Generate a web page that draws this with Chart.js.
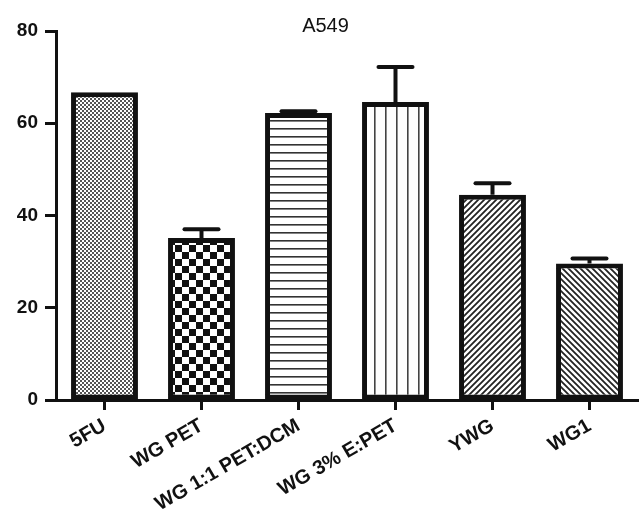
<!DOCTYPE html>
<html>
<head>
<meta charset="utf-8">
<script src="https://cdn.jsdelivr.net/npm/chart.js@4.4.0/dist/chart.umd.min.js"></script>
<style>
  html, body { margin: 0; padding: 0; background: #fff; }
  #wrap { width: 641px; height: 519px; position: relative; }
</style>
</head>
<body>
<div id="wrap"><canvas id="grafica"></canvas></div>
<script>
// datos
const categorias = ["5FU", "WG PET", "WG 1:1 PET:DCM", "WG 3% E:PET", "YWG", "WG1"];
const valores = [66.7, 35.1, 62.2, 64.6, 44.5, 29.6];
const errores = [0, 1.9, 0.4, 7.6, 2.5, 1.1];
const ticksY = [0, 20, 40, 60, 80];
const titulo = "A549";

const NEGRO = "#111";
const FUENTE = "Liberation Sans, Arial, sans-serif";

// === patrones de relleno ===
function tile(w, h, draw) {
  const c = document.createElement("canvas");
  c.width = w; c.height = h;
  const g = c.getContext("2d");
  g.fillStyle = "#fff";
  g.fillRect(0, 0, w, h);
  draw(g, w, h);
  return document.getElementById("grafica").getContext("2d").createPattern(c, "repeat");
}

const patrones = [
  // puntos finos
  tile(4, 4, (g) => {
    g.fillStyle = "#555";
    g.fillRect(0, 0, 2, 2);
    g.fillRect(2, 2, 2, 2);
  }),
  // tablero
  tile(14, 14, (g) => {
    g.fillStyle = NEGRO;
    g.fillRect(0, 0, 7, 7);
    g.fillRect(7, 7, 7, 7);
  }),
  // lineas horizontales
  tile(8, 8, (g) => {
    g.fillStyle = "#333";
    g.fillRect(0, 0, 8, 1.6);
  }),
  // lineas verticales
  tile(11, 8, (g) => {
    g.fillStyle = "#444";
    g.fillRect(0, 0, 1.6, 8);
  }),
  // diagonal /
  tile(6, 6, (g) => {
    g.strokeStyle = "#222";
    g.lineWidth = 1.8;
    g.beginPath();
    g.moveTo(-1, 7); g.lineTo(7, -1);
    g.moveTo(-4, 4); g.lineTo(4, -4);
    g.moveTo(2, 10); g.lineTo(10, 2);
    g.stroke();
  }),
  // diagonal \
  tile(6, 6, (g) => {
    g.strokeStyle = "#222";
    g.lineWidth = 1.8;
    g.beginPath();
    g.moveTo(-1, -1); g.lineTo(7, 7);
    g.moveTo(-4, 2); g.lineTo(4, 10);
    g.moveTo(2, -4); g.lineTo(10, 4);
    g.stroke();
  })
];

// barras de error (solo hacia arriba)
const barrasError = {
  id: "barrasError",
  afterDatasetsDraw(chart) {
    const ctx = chart.ctx;
    const meta = chart.getDatasetMeta(0);
    const y = chart.scales.y;
    ctx.save();
    ctx.strokeStyle = NEGRO;
    ctx.lineWidth = 4;
    meta.data.forEach((bar, i) => {
      if (!errores[i]) return;
      const yTop = y.getPixelForValue(valores[i] + errores[i]);
      ctx.beginPath();
      ctx.moveTo(bar.x, bar.y);
      ctx.lineTo(bar.x, yTop);
      ctx.stroke();
      ctx.lineCap = "round";
      ctx.beginPath();
      ctx.moveTo(bar.x - 17, yTop);
      ctx.lineTo(bar.x + 17, yTop);
      ctx.stroke();
      ctx.lineCap = "butt";
    });
    ctx.restore();
  }
};

new Chart(document.getElementById("grafica"), {
  type: "bar",
  data: {
    labels: categorias,
    datasets: [{
      data: valores,
      backgroundColor: patrones,
      borderColor: NEGRO,
      borderWidth: 5,
      borderSkipped: false,
      categoryPercentage: 1,
      barPercentage: 0.69
    }]
  },
  options: {
    responsive: true,
    maintainAspectRatio: false,
    animation: false,
    layout: { padding: { left: 13, right: 3, top: 0, bottom: 0 } },
    plugins: {
      legend: { display: false },
      tooltip: { enabled: false },
      title: {
        display: true,
        text: titulo,
        color: NEGRO,
        font: { family: FUENTE, size: 20, weight: "normal" },
        padding: { top: 14, bottom: -7 }
      }
    },
    scales: {
      x: {
        offset: true,
        afterFit: (s) => { s.height = 119; },
        grid: {
          offset: false,
          drawOnChartArea: false,
          drawTicks: true,
          tickLength: 10,
          tickWidth: 3,
          tickColor: NEGRO,
          color: NEGRO
        },
        border: { display: true, color: NEGRO, width: 3 },
        ticks: {
          color: NEGRO,
          minRotation: 30,
          maxRotation: 30,
          padding: 4,
          font: { family: FUENTE, size: 20, weight: "bold" }
        }
      },
      y: {
        min: 0,
        max: 80,
        afterFit: (s) => { s.width = 43; },
        afterBuildTicks: (s) => { s.ticks = ticksY.map(v => ({ value: v })); },
        grid: {
          drawOnChartArea: false,
          drawTicks: true,
          tickLength: 11,
          tickWidth: 3,
          tickColor: NEGRO,
          color: NEGRO
        },
        border: { display: true, color: NEGRO, width: 3 },
        ticks: {
          color: NEGRO,
          padding: 7,
          font: { family: FUENTE, size: 19, weight: "bold" }
        }
      }
    }
  },
  plugins: [barrasError]
});
</script>
</body>
</html>
